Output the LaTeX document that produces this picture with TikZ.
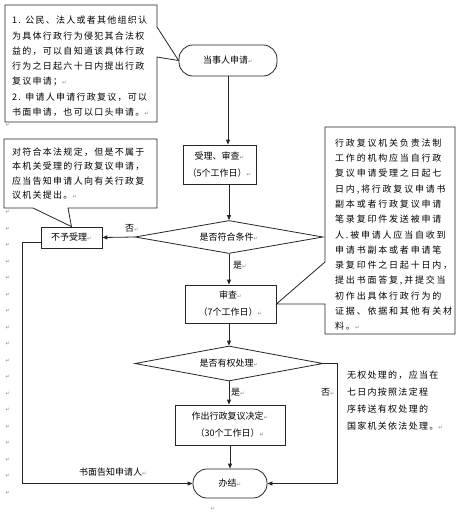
\documentclass[tikz,border=0pt]{standalone}
\usepackage{fontspec}
\usetikzlibrary{shapes.geometric,arrows.meta}
\newfontfamily\cjk{Noto Sans CJK SC}
\newfontfamily\cjkA[LetterSpace=14]{Noto Sans CJK SC}
\newfontfamily\cjkB[LetterSpace=20]{Noto Sans CJK SC}
\newfontfamily\dv{DejaVu Sans}
\newcommand\rt{{\dv\fontsize{5.5}{6}\selectfont\textcolor{black!45}{↵}}}
\begin{document}
\begin{tikzpicture}[x=1pt,y=-1pt,
  ln/.style={draw=black!85,line width=0.8pt},
  arr/.style={ln,-{Triangle[length=5pt,width=4pt]}},
  box/.style={draw=black!85,line width=0.8pt,inner sep=0pt,align=center,font=\cjk\fontsize{9}{17}\selectfont},
  term/.style={box,rounded corners=14pt},
  dec/.style={diamond,draw=black!85,line width=0.8pt,inner sep=0pt,font=\cjk\fontsize{9}{10}\selectfont},
  note/.style={inner sep=0pt,align=left,anchor=north west},
  lab/.style={inner sep=0pt,font=\cjk\fontsize{9}{10}\selectfont},
  pm/.style={inner sep=0pt}
]
\fill[white] (0,0) rectangle (463,515);
\useasboundingbox (0,0) rectangle (463,515);

% flow nodes
\node[term, minimum width=98pt, minimum height=31pt] (ts) at (228,60.5) {当事人申请\rt};
\node[box, minimum width=73pt, minimum height=39pt] (b1) at (219.5,164.5) {受理、审查\rt\\（5个工作日）\rt};
\node[dec, aspect=5.7, minimum width=188pt, minimum height=33pt] (d1) at (229,237) {是否符合条件\rt};
\node[box, minimum width=61pt, minimum height=21pt] (nb) at (71.5,237.5) {不予受理\rt};
\node[box, minimum width=91pt, minimum height=38pt] (b2) at (230.5,304) {审查\rt\\（7个工作日）\rt};
\node[dec, aspect=5.4, minimum width=188pt, minimum height=35pt] (d2) at (229,363.5) {是否有权处理\rt};
\node[box, minimum width=110pt, minimum height=40pt] (b3) at (230,425) {作出行政复议决定\rt\\（30个工作日）\rt};
\node[term, minimum width=74pt, minimum height=29pt] (en) at (230,483.5) {办结\rt};

% connectors
\draw[arr] (ts.south) -- (ts.south |- b1.north);
\draw[arr] (d1.north |- b1.south) -- (d1.north);
\draw[arr] (d1.west) -- (nb.east);
\draw[arr] (d1.south) -- (d1.south |- b2.north);
\draw[arr] (d2.north |- b2.south) -- (d2.north);
\draw[arr] (d2.south) -- (d2.south |- b3.north);
\draw[arr] (b3.south) -- (en.north);
\coordinate (c1) at (337,363.5);
\draw[arr] (d2.east) -- (c1) |- (en.east);
\coordinate (c2) at (22,242);
\draw[arr] (nb.west |- c2) -- (c2) |- (en.west);

% labels
\node[lab] (n1) at (132,228) {否\rt};
\node[lab] (y1) at (240,265) {是\rt};
\node[lab] (y2) at (238,392) {是\rt};
\node[lab] (n2) at (328,392) {否\rt};
\node[lab] (tell) at (113,472) {书面告知申请人\rt};

% callouts
\draw[ln] (5,5) -- (157,5) -- (157,27) -- (ts.west) -- (157,57) -- (157,122) -- (5,122) -- cycle;
\draw[ln] (4,139) -- (157,139) -- (157,208) -- (68,208) -- (nb.north) -- (33,208) -- (4,208) -- cycle;
\draw[ln] (325,127) -- (455,127) -- (455,334) -- (325,334) -- (325,304) -- (b2.east) -- (325,262) -- cycle;

\node[note, font=\cjkA\fontsize{9}{15.3}\selectfont] (t1) at (12,16) {1. 公民、法人或者其他组织认\\为具体行政行为侵犯其合法权\\益的，可以自知道该具体行政\\行为之日起六十日内提出行政\\复议申请；\rt\\2. 申请人申请行政复议，可以\\书面申请，也可以口头申请。\rt};
\node[note, font=\cjkA\fontsize{9}{14.5}\selectfont] (t2) at (12,147.5) {对符合本法规定，但是不属于\\本机关受理的行政复议申请，\\应当告知申请人向有关行政复\\议机关提出。\rt};
\node[note, font=\cjkB\fontsize{9}{15.3}\selectfont] (t3) at (335,138.5) {行政复议机关负责法制\\工作的机构应当自行政\\复议申请受理之日起七\\日内,将行政复议申请书\\副本或者行政复议申请\\笔录复印件发送被申请\\人.被申请人应当自收到\\申请书副本或者申请笔\\录复印件之日起十日内，\\提出书面答复,并提交当\\初作出具体行政行为的\\证据、依据和其他有关材\\料。\rt};
\node[note, font=\cjkA\fontsize{9}{17}\selectfont] (t4) at (347,370.5) {无权处理的，应当在\\七日内按照法定程\\序转送有权处理的\\国家机关依法处理。\rt};

% paragraph marks
\node[pm] (pmA) at (8,125) {\rt};
\node[pm] (pmB) at (213,509) {\rt};
\foreach \k in {0,...,17} \node[pm] (pm\k) at (8,{212+16.5*\k}) {\rt};
\end{tikzpicture}
\end{document}
